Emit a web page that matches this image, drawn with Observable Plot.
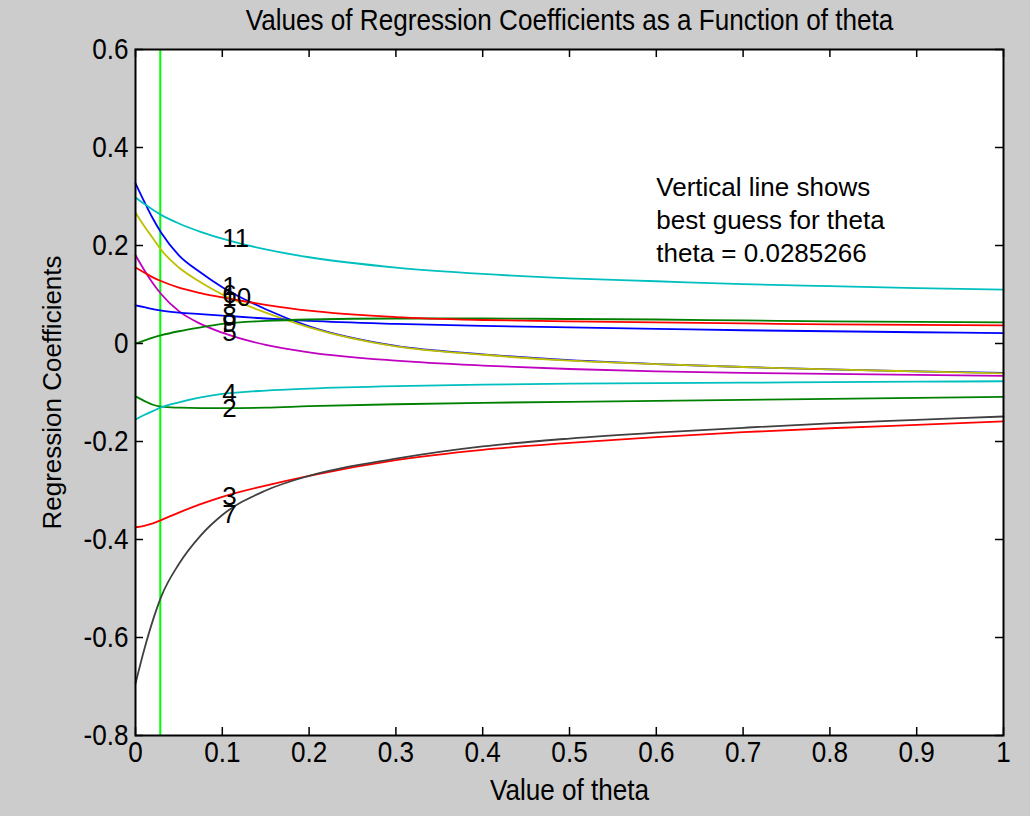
<!DOCTYPE html>
<html><head><meta charset="utf-8">
<script src="https://cdn.jsdelivr.net/npm/d3@7"></script>
<script src="https://cdn.jsdelivr.net/npm/@observablehq/plot@0.6"></script>
<style>
html,body{margin:0;padding:0;background:#cccccc;overflow:hidden;}
#chart svg{display:block;}
</style></head><body><div id="chart"></div>
<script>
// ---- data ----
const theta = [0, 0.01, 0.02, 0.03, 0.05, 0.075, 0.1, 0.15, 0.2, 0.3, 0.4, 0.5, 0.6, 0.7, 0.8, 0.9, 1.0];
const coef1  = [0.327, 0.29, 0.255, 0.225, 0.18, 0.145, 0.115, 0.07, 0.035, -0.005, -0.022, -0.034, -0.042, -0.048, -0.053, -0.057, -0.060];
const coef2  = [-0.108, -0.117, -0.125, -0.129, -0.131, -0.132, -0.132, -0.131, -0.128, -0.124, -0.121, -0.119, -0.117, -0.115, -0.113, -0.111, -0.109];
const coef3  = [-0.375, -0.372, -0.367, -0.360, -0.345, -0.328, -0.313, -0.290, -0.270, -0.238, -0.217, -0.203, -0.191, -0.181, -0.173, -0.166, -0.159];
const coef4  = [-0.155, -0.146, -0.138, -0.130, -0.120, -0.110, -0.103, -0.096, -0.092, -0.087, -0.084, -0.082, -0.081, -0.080, -0.079, -0.078, -0.077];
const coef5  = [0.180, 0.150, 0.123, 0.100, 0.066, 0.040, 0.022, -0.003, -0.018, -0.035, -0.045, -0.052, -0.057, -0.060, -0.062, -0.064, -0.066];
const coef6  = [0.267, 0.240, 0.215, 0.190, 0.155, 0.125, 0.100, 0.063, 0.033, -0.006, -0.023, -0.035, -0.042, -0.048, -0.053, -0.057, -0.061];
const coef7  = [-0.694, -0.625, -0.565, -0.515, -0.450, -0.392, -0.350, -0.300, -0.270, -0.235, -0.210, -0.194, -0.182, -0.172, -0.163, -0.156, -0.149];
const coef8  = [0.078, 0.074, 0.070, 0.067, 0.063, 0.060, 0.057, 0.051, 0.046, 0.040, 0.036, 0.033, 0.030, 0.027, 0.025, 0.023, 0.021];
const coef9  = [0.000, 0.006, 0.012, 0.017, 0.025, 0.033, 0.040, 0.046, 0.049, 0.051, 0.051, 0.050, 0.049, 0.047, 0.045, 0.044, 0.043];
const coef10 = [0.155, 0.145, 0.135, 0.127, 0.114, 0.103, 0.094, 0.079, 0.067, 0.054, 0.048, 0.045, 0.043, 0.041, 0.039, 0.038, 0.037];
const coef11 = [0.298, 0.285, 0.273, 0.262, 0.245, 0.228, 0.214, 0.192, 0.176, 0.155, 0.142, 0.133, 0.127, 0.121, 0.117, 0.113, 0.110];
const seriesNames = ["1","2","3","4","5","6","7","8","9","10","11"];
const seriesColors = ["#0000ff","#008000","#ff0000","#00bfbf","#bf00bf","#bfbf00","#404040","#0000ff","#008000","#ff0000","#00bfbf"];
const labelTheta = 0.1;
const bestTheta = 0.0285266;
const xTicks = [0, 0.1, 0.2, 0.3, 0.4, 0.5, 0.6, 0.7, 0.8, 0.9, 1];
const yTicks = [-0.8, -0.6, -0.4, -0.2, 0, 0.2, 0.4, 0.6];
const titleText = "Values of Regression Coefficients as a Function of theta";
const xLabel = "Value of theta";
const yLabel = "Regression Coefficients";
const noteText = ["Vertical line shows", "best guess for theta", "theta = 0.0285266"];
const noteTheta = 0.6;
const noteValue = 0.256;

// ---- build table ----
const allCoefs = [coef1, coef2, coef3, coef4, coef5, coef6, coef7, coef8, coef9, coef10, coef11];
const rows = [];
allCoefs.forEach((vals, i) => vals.forEach((v, j) => rows.push({series: seriesNames[i], color: seriesColors[i], theta: theta[j], value: v})));

const W = 1030, H = 816, mL = 135, mR = 27, mT = 49, mB = 81;
const innerH = H - mT - mB, innerW = W - mL - mR;
const regular = "'Liberation Sans', Arial, sans-serif";
const tickLen = 8;
const condense = 0.87;

const chart = Plot.plot({
  width: W, height: H,
  marginLeft: mL, marginRight: mR, marginTop: mT, marginBottom: mB,
  style: {background: "#cccccc", color: "black", fontFamily: regular},
  x: {domain: [0, 1]},
  y: {domain: [-0.8, 0.6]},
  marks: [
    Plot.frame({fill: "white", stroke: "none"}),
    Plot.ruleX([bestTheta], {stroke: "#00ff00", strokeWidth: 2}),
    Plot.line(rows, {x: "theta", y: "value", z: "series", stroke: "color", strokeWidth: 1.8, curve: "monotone-x"}),
    Plot.text(rows.filter(d => d.theta === labelTheta), {x: "theta", y: "value", text: "series", textAnchor: "start", fill: "black", fontSize: 26, fontFamily: regular}),
    Plot.text([noteText.join("\n")], {x: noteTheta, y: noteValue, textAnchor: "start", lineAnchor: "middle", lineHeight: 1.27, fontSize: 26, fontFamily: regular, fill: "black"}),
    // inward ticks on all four sides
    Plot.tickX(xTicks, {x: d => d, insetTop: innerH - tickLen, stroke: "black", strokeWidth: 1.5}),
    Plot.tickX(xTicks, {x: d => d, insetBottom: innerH - tickLen, stroke: "black", strokeWidth: 1.5}),
    Plot.tickY(yTicks, {y: d => d, insetRight: innerW - tickLen, stroke: "black", strokeWidth: 1.5}),
    Plot.tickY(yTicks, {y: d => d, insetLeft: innerW - tickLen, stroke: "black", strokeWidth: 1.5}),
    Plot.frame({stroke: "black", strokeWidth: 2}),
    Plot.axisX(xTicks, {tickSize: 0, tickPadding: 5, tickFormat: d => String(d), fontSize: 30, label: null}),
    Plot.axisY(yTicks, {tickSize: 0, tickPadding: 7, tickFormat: d => String(d), fontSize: 30, label: null}),
    Plot.text([titleText], {frameAnchor: "top", lineAnchor: "middle", textAnchor: "middle", dy: -29, fontSize: 30, fill: "black"}),
    Plot.text([xLabel], {frameAnchor: "bottom", lineAnchor: "middle", textAnchor: "middle", dy: 55, fontSize: 30, fill: "black"}),
    Plot.text([yLabel], {frameAnchor: "left", lineAnchor: "middle", textAnchor: "middle", dx: -83, rotate: -90, fontSize: 26, fill: "black"})
  ]
});
document.getElementById("chart").appendChild(chart);

// The reference draws tick labels, title and x label with horizontally condensed glyphs.
const condensedTexts = new Set([titleText, xLabel]);
d3.select(chart).selectAll("text").each(function () {
  const g = this.parentNode;
  const aria = (g && g.getAttribute && g.getAttribute("aria-label")) || "";
  const txt = this.textContent;
  if (aria.includes("tick label") || condensedTexts.has(txt)) {
    const len = this.getComputedTextLength();
    this.setAttribute("textLength", (len * condense).toFixed(1));
    this.setAttribute("lengthAdjust", "spacingAndGlyphs");
  }
});
</script>
</body></html>
